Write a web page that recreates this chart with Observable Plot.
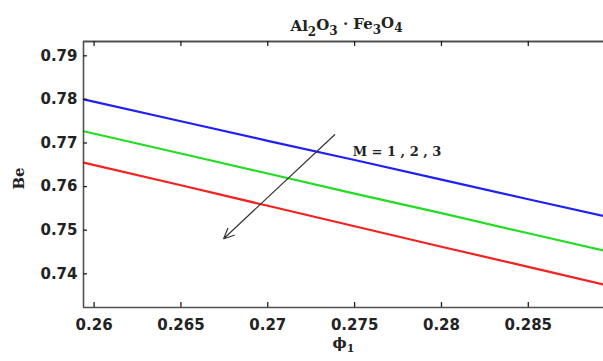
<!DOCTYPE html>
<html><head><meta charset="utf-8">
<script src="https://cdn.jsdelivr.net/npm/d3@7"></script>
<script src="https://cdn.jsdelivr.net/npm/@observablehq/plot@0.6"></script>
<style>body{margin:0;background:#fff} svg{display:block}</style>
</head><body><div id="chart"></div>
<script>
// ---- data ----
const phi  = [0.2594, 0.265, 0.27, 0.275, 0.28, 0.285, 0.2894];
const beM1 = [0.7800, 0.7750, 0.7705, 0.7661, 0.7616, 0.7571, 0.7532];
const beM2 = [0.7727, 0.7676, 0.7630, 0.7584, 0.7539, 0.7493, 0.7453];
const beM3 = [0.7655, 0.7603, 0.7556, 0.7509, 0.7462, 0.7416, 0.7375];
const seriesNames  = ["M = 1", "M = 2", "M = 3"];
const seriesColors = ["#2020f5", "#22dd22", "#f52020"];
const xTicks = [0.26, 0.265, 0.27, 0.275, 0.28, 0.285];
const xTickLabels = ["0.26", "0.265", "0.27", "0.275", "0.28", "0.285"];
const yTicks = [0.74, 0.75, 0.76, 0.77, 0.78, 0.79];
const yTickLabels = ["0.74", "0.75", "0.76", "0.77", "0.78", "0.79"];
const xDomain = [0.25939, 0.28933];
const yDomain = [0.73227, 0.79328];
const arrowFrom = {x: 0.27385, y: 0.7719};
const arrowTo   = {x: 0.26746, y: 0.74805};
const annotation = {x: 0.27489, y: 0.7680, text: "M = 1 , 2 , 3"};
const titleParts = [["Al", 0], ["2", 1], ["O", 0], ["3", 1], [" · Fe", 0], ["3", 1], ["O", 0], ["4", 1]];
const yLabel = "Be";
const xLabelParts = [["ϕ", 0], ["1", 1]];

// ---- tidy table ----
const seriesVals = [beM1, beM2, beM3];
const rows = [];
seriesNames.forEach((s, i) => phi.forEach((p, j) => rows.push({series: s, phi: p, be: seriesVals[i][j]})));

const sansBold = "'DejaVu Sans', Verdana, sans-serif";
const serif = "'DejaVu Serif', serif";
const axisColor = "#505050";
const W = 603, H = 361, ML = 83, MR = 0, MT = 41, MB = 54;
const frameW = W - ML - MR, frameH = H - MT - MB, tickLen = 5;

const plot = Plot.plot({
  width: W,
  height: H,
  marginLeft: ML,
  marginRight: MR,
  marginTop: MT,
  marginBottom: MB,
  style: {fontFamily: sansBold, fontSize: "15px", fontWeight: "bold", color: "#222", background: "#fff"},
  x: {domain: xDomain, label: null},
  y: {domain: yDomain, label: null},
  color: {domain: seriesNames, range: seriesColors},
  marks: [
    Plot.line(rows, {x: "phi", y: "be", z: "series", stroke: "series", strokeWidth: 2.2}),
    Plot.ruleY([yDomain[1]], {stroke: axisColor, strokeWidth: 2}),
    Plot.ruleY([yDomain[0]], {stroke: axisColor, strokeWidth: 1.6}),
    Plot.ruleX([xDomain[0]], {stroke: axisColor, strokeWidth: 1.6}),
    // inward tick marks
    Plot.tickX(xTicks, {x: d => d, insetTop: frameH - tickLen, stroke: "#222", strokeWidth: 1.3}),
    Plot.tickX(xTicks, {x: d => d, insetBottom: frameH - tickLen, stroke: "#222", strokeWidth: 1.3}),
    Plot.tickY(yTicks, {y: d => d, insetRight: frameW - 4, stroke: "#222", strokeWidth: 1.3}),
    // tick labels
    Plot.axisX({anchor: "bottom", ticks: xTicks, tickFormat: (d, i) => xTickLabels[i], tickSize: 0, tickPadding: 12, label: null}),
    Plot.axisY({anchor: "left", ticks: yTicks, tickFormat: (d, i) => yTickLabels[i], tickSize: 0, tickPadding: 6, label: null}),
    Plot.arrow([{}], {x1: () => arrowFrom.x, y1: () => arrowFrom.y, x2: () => arrowTo.x, y2: () => arrowTo.y,
      stroke: "#333", strokeWidth: 1.2, headLength: 14, headAngle: 50}),
    Plot.text([annotation], {x: "x", y: "y", text: "text", textAnchor: "start", fontFamily: serif, fontSize: 13, fontWeight: "bold", fill: "#222"}),
    Plot.text([yLabel], {frameAnchor: "left", dx: -64, dy: 4, text: d => d, textAnchor: "middle", rotate: -90, fontFamily: serif, fontSize: 15, fontWeight: "bold", fill: "#222"}),
    Plot.text(["title"], {frameAnchor: "top", dy: -21, dx: 3, text: d => d, textAnchor: "middle", className: "ttl", fontFamily: serif, fontSize: 15, fontWeight: "bold", fill: "#222"}),
    Plot.text(["xlabel"], {frameAnchor: "bottom", dy: 40, text: d => d, textAnchor: "middle", className: "xlab", fontFamily: serif, fontSize: 15, fontWeight: "bold", fill: "#222"})
  ]
});

function setParts(sel, parts, subSize) {
  const t = plot.querySelector(sel + " text");
  if (!t) return;
  t.textContent = "";
  parts.forEach(([s, sub], i) => {
    const ts = document.createElementNS("http://www.w3.org/2000/svg", "tspan");
    ts.textContent = s;
    if (sub) { ts.setAttribute("font-size", subSize); ts.setAttribute("dy", "0.4em"); }
    else if (i > 0 && parts[i - 1][1]) { ts.setAttribute("dy", "-0.4em"); }
    t.appendChild(ts);
  });
}
setParts(".ttl", titleParts, "12");
setParts(".xlab", xLabelParts, "11");

document.getElementById("chart").appendChild(plot);
</script>
</body></html>
